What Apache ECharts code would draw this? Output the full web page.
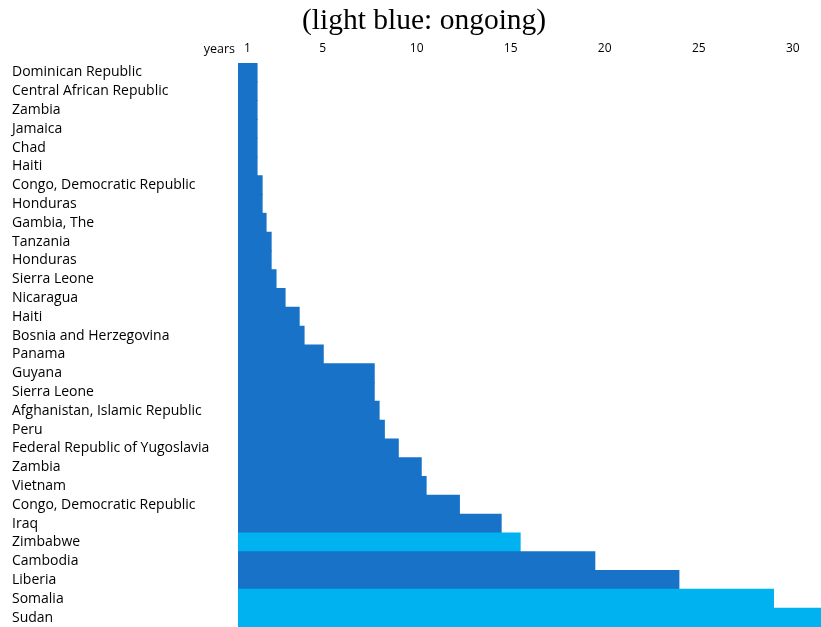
<!DOCTYPE html>
<html><head><meta charset="utf-8">
<script src="https://cdn.jsdelivr.net/npm/echarts@6/dist/echarts.min.js"></script>
<style>html,body{margin:0;padding:0;background:#fff}#c{width:821px;height:627px}</style>
</head><body><div id="c"></div>
<script>
const countries = ["Dominican Republic","Central African Republic","Zambia","Jamaica","Chad","Haiti","Congo, Democratic Republic","Honduras","Gambia, The","Tanzania","Honduras","Sierra Leone","Nicaragua","Haiti","Bosnia and Herzegovina","Panama","Guyana","Sierra Leone","Afghanistan, Islamic Republic","Peru","Federal Republic of Yugoslavia","Zambia","Vietnam","Congo, Democratic Republic","Iraq","Zimbabwe","Cambodia","Liberia","Somalia","Sudan"];
const years = [1.54,1.54,1.54,1.54,1.54,1.54,1.81,1.81,2.02,2.29,2.29,2.55,3.03,3.78,4.04,5.06,7.77,7.77,8.03,8.31,9.05,10.27,10.53,12.3,14.52,15.53,19.5,23.97,29.0,31.6];
const ongoing = [0,0,0,0,0,0,0,0,0,0,0,0,0,0,0,0,0,0,0,0,0,0,0,0,0,1,0,0,1,1];
const tickValues = [1,5,10,15,20,25,30];
const darkBlue = '#1772C8', lightBlue = '#00B2F0';
const chart = echarts.init(document.getElementById('c'));
chart.setOption({
  animation:false,
  title:{text:'(light blue: ongoing)',left:297,top:1,textStyle:{fontFamily:'Liberation Serif',fontSize:29.5,fontWeight:'normal',color:'#000'}},
  grid:{left:238,right:0,top:63,bottom:0,containLabel:false},
  xAxis:{type:'value',position:'top',min:0.5,max:31.5,
    name:'years',nameLocation:'start',nameGap:3,nameTextStyle:{fontFamily:'Open Sans',fontSize:12.5,color:'#000',verticalAlign:'bottom',padding:[0,0,7,0]},
    axisLine:{show:false},axisTick:{show:false},splitLine:{show:false},
    axisLabel:{customValues:tickValues,fontFamily:'Open Sans',fontSize:12,color:'#000',margin:8}},
  yAxis:{type:'category',inverse:true,data:countries,
    axisLine:{show:false},axisTick:{show:false},
    axisLabel:{align:'left',margin:226,fontFamily:'Open Sans',fontSize:14,color:'#000',interval:0}},
  series:[{type:'bar',barWidth:'106%',
    data:years.map((v,i)=>({value:v,itemStyle:{color:ongoing[i]?lightBlue:darkBlue}}))}]
});
</script></body></html>
